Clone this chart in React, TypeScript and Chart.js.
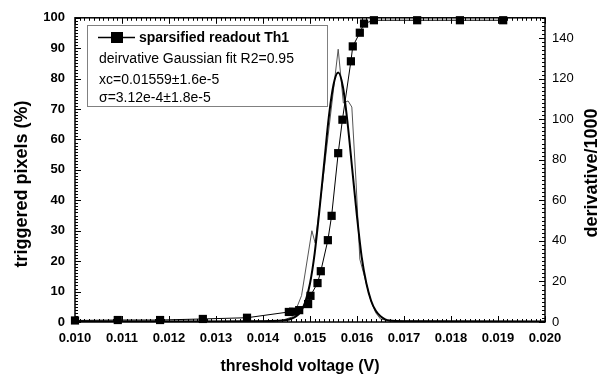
import React, { useEffect, useRef } from "react";
import { Chart, registerables } from "chart.js";

Chart.register(...registerables);

// Sparsified readout Th1 (left axis, %)
const readoutVoltage = [
  0.0100, 0.01091, 0.01181, 0.01272, 0.01366, 0.01455, 0.01464, 0.01477, 0.01496, 0.01501,
  0.01516, 0.01523, 0.01538, 0.01546, 0.01560, 0.01569, 0.01587, 0.01591, 0.01606, 0.01615,
  0.01636, 0.01728, 0.01819, 0.01911,
];
const readoutPct = [
  0.5, 0.65, 0.65, 1.0, 1.4, 3.3, 3.4, 3.9, 5.9, 8.6,
  12.8, 16.7, 26.9, 34.9, 55.5, 66.5, 85.7, 90.6, 95.1, 98.1,
  99.2, 99.2, 99.2, 99.2,
];

// Measured derivative (right axis, derivative/1000)
const derivVoltage = [
  0.0100, 0.0130, 0.0140, 0.0144, 0.01464, 0.01482, 0.01504, 0.01511, 0.01528, 0.01560,
  0.01571, 0.01581, 0.01589, 0.01598, 0.01606, 0.01621, 0.01630, 0.01640, 0.01650, 0.01670,
  0.0200,
];
const derivValue = [
  0.3, 0.4, 0.5, 0.8, 2.6, 13, 45, 39, 71, 134.5,
  108, 109, 106, 69, 31, 18, 10, 4.5, 1.5, 0.5,
  0.3,
];

// Gaussian fit of the derivative (right axis)
const fitVoltage = [
  0.0100, 0.0130, 0.0140, 0.0144, 0.0145, 0.0146, 0.0147, 0.0148, 0.0149, 0.0150,
  0.0151, 0.0152, 0.0153, 0.0154, 0.0155, 0.0156, 0.0157, 0.0158, 0.0159, 0.0160,
  0.0161, 0.0162, 0.0163, 0.0164, 0.0165, 0.0166, 0.0167, 0.0170, 0.0200,
];
const fitValue = [
  0.3, 0.3, 0.4, 0.7, 1.0, 1.6, 2.8, 5.0, 10, 19,
  34, 55, 78, 101, 117, 123, 116, 98, 75, 52,
  32, 19, 10.5, 5.5, 2.8, 1.3, 0.7, 0.4, 0.3,
];

const legendLines = [
  "sparsified readout Th1",
  "deirvative Gaussian fit R2=0.95",
  "xc=0.01559\u00b11.6e-5",
  "\u03c3=3.12e-4\u00b11.8e-5",
];

const FONT = "'Liberation Sans', Arial, Helvetica, sans-serif";

const decorPlugin = {
  id: "decor",
  afterDatasetsDraw(chart: any) {
    const { ctx } = chart;
    ctx.save();
    // legend box
    ctx.fillStyle = "#fff";
    ctx.fillRect(87, 25, 241, 82);
    ctx.strokeStyle = "#808080";
    ctx.lineWidth = 1;
    ctx.strokeRect(87.5, 25.5, 240, 81);
    // legend symbol
    ctx.strokeStyle = "#000";
    ctx.lineWidth = 1.5;
    ctx.beginPath();
    ctx.moveTo(98, 37.5);
    ctx.lineTo(135, 37.5);
    ctx.stroke();
    ctx.fillStyle = "#000";
    ctx.fillRect(111, 32, 12, 11);
    ctx.textBaseline = "middle";
    ctx.textAlign = "left";
    ctx.font = `bold 14px ${FONT}`;
    ctx.fillText(legendLines[0], 139, 38);
    ctx.font = `14px ${FONT}`;
    ctx.fillText(legendLines[1], 99, 59);
    ctx.fillText(legendLines[2], 99, 80);
    ctx.fillText(legendLines[3], 99, 98);
    ctx.restore();
  },
  afterDraw(chart: any) {
    const { ctx, chartArea: a, scales } = chart;
    const xs = scales.x, ys = scales.y, y2 = scales.y2;
    ctx.save();
    ctx.strokeStyle = "#000";
    ctx.lineWidth = 1;
    const line = (x1: number, y1: number, x2: number, y2p: number) => {
      ctx.beginPath();
      ctx.moveTo(x1, y1);
      ctx.lineTo(x2, y2p);
      ctx.stroke();
    };
    for (let i = 0; i <= 100; i++) {
      const px = Math.round(xs.getPixelForValue(0.01 + i * 0.0001)) + 0.5;
      const len = i % 10 === 0 ? 6 : 3;
      line(px, a.bottom, px, a.bottom - len);
      line(px, a.top, px, a.top + len);
    }
    for (let i = 0; i <= 100; i++) {
      const py = Math.round(ys.getPixelForValue(i)) + 0.5;
      const len = i % 10 === 0 ? 6 : 3;
      line(a.left, py, a.left + len, py);
    }
    for (let i = 0; i <= 75; i++) {
      const v = i * 2;
      const py = Math.round(y2.getPixelForValue(v)) + 0.5;
      const len = v % 20 === 0 ? 6 : 3;
      line(a.right, py, a.right - len, py);
    }
    ctx.lineWidth = 1.5;
    ctx.strokeRect(a.left, a.top, a.right - a.left, a.bottom - a.top);

    // titles
    ctx.fillStyle = "#000";
    ctx.font = `bold 16px ${FONT}`;
    ctx.textAlign = "center";
    ctx.textBaseline = "middle";
    ctx.fillText("threshold voltage (V)", 300, 367);
    ctx.font = `bold 18px ${FONT}`;
    ctx.save();
    ctx.translate(22, 184);
    ctx.rotate(-Math.PI / 2);
    ctx.fillText("triggered pixels (%)", 0, 0);
    ctx.restore();
    ctx.save();
    ctx.translate(592, 173);
    ctx.rotate(-Math.PI / 2);
    ctx.fillText("derivative/1000", 0, 0);
    ctx.restore();
    ctx.restore();
  },
};

export default function App() {
  const ref = useRef<HTMLCanvasElement | null>(null);
  useEffect(() => {
    if (!ref.current) return;
    const chart = new Chart(ref.current, {
      type: "line",
      data: {
        datasets: [
          {
            label: legendLines[0],
            data: readoutVoltage.map((x, i) => ({ x, y: readoutPct[i] })),
            yAxisID: "y",
            borderColor: "#000",
            backgroundColor: "#000",
            borderWidth: 1,
            pointStyle: "rect",
            pointRadius: 5.8,
            pointBorderWidth: 0,
            clip: false as any,
          },
          {
            label: "fit",
            data: fitVoltage.map((x, i) => ({ x, y: fitValue[i] })),
            yAxisID: "y2",
            borderColor: "#000",
            borderWidth: 2,
            pointRadius: 0,
            cubicInterpolationMode: "monotone",
          },
          {
            label: "derivative",
            data: derivVoltage.map((x, i) => ({ x, y: derivValue[i] })),
            yAxisID: "y2",
            borderColor: "#555",
            borderWidth: 1,
            pointRadius: 0,
          },
        ],
      },
      options: {
        animation: false,
        responsive: false,
        devicePixelRatio: 1,
        layout: { padding: { top: 15, left: 0, right: 0, bottom: 0 } },
        plugins: { legend: { display: false }, tooltip: { enabled: false } },
        scales: {
          x: {
            type: "linear",
            min: 0.01,
            max: 0.02,
            grid: { display: false, drawTicks: false },
            border: { display: false },
            ticks: {
              stepSize: 0.001,
              autoSkip: false,
              maxRotation: 0,
              includeBounds: false,
              padding: 9,
              color: "#000",
              font: { family: FONT, size: 13, weight: "bold" },
              callback: (v: any) => Number(v).toFixed(3),
            },
            afterFit: (s: any) => {
              s.height = 58;
            },
          },
          y: {
            type: "linear",
            position: "left",
            min: 0,
            max: 100,
            grid: { display: false, drawTicks: false },
            border: { display: false },
            ticks: {
              stepSize: 10,
              padding: 10,
              includeBounds: false,
              color: "#000",
              font: { family: FONT, size: 13, weight: "bold" },
            },
            afterFit: (s: any) => {
              s.width = 75;
            },
          },
          y2: {
            type: "linear",
            position: "right",
            min: 0,
            max: 150,
            grid: { display: false, drawTicks: false },
            border: { display: false },
            ticks: {
              stepSize: 20,
              padding: 7,
              includeBounds: false,
              color: "#000",
              font: { family: FONT, size: 13 },
            },
            afterFit: (s: any) => {
              s.width = 63;
            },
          },
        },
      } as any,
      plugins: [decorPlugin],
    });
    return () => chart.destroy();
  }, []);
  return (
    <div style={{ position: "absolute", left: 0, top: 0, width: 608, height: 380, background: "#fff" }}>
      <canvas ref={ref} width={608} height={380} />
    </div>
  );
}
